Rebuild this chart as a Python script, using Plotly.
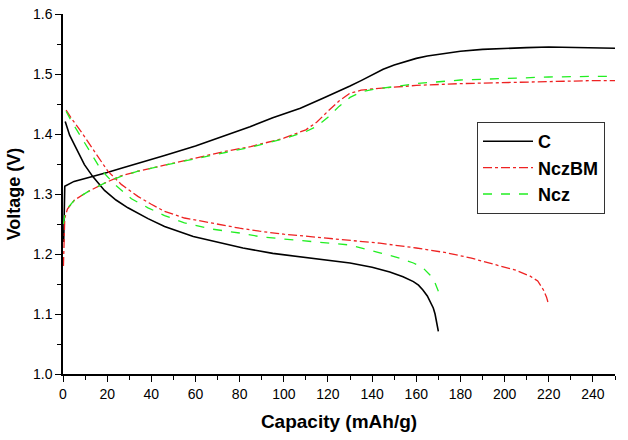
import plotly.graph_objects as go

# ---------------- data ----------------
c_charge_x = [0.3, 0.5, 0.8, 5, 11.3, 20, 26.4, 35, 46, 60, 70, 84.7, 95, 107.5, 118, 125, 130, 135, 140, 145, 150, 155, 160, 165, 170, 180, 190, 200, 210, 220, 230, 240, 250]
c_charge_v = [1.22, 1.30, 1.313, 1.321, 1.327, 1.336, 1.343, 1.352, 1.364, 1.380, 1.393, 1.412, 1.427, 1.443, 1.460, 1.471, 1.480, 1.489, 1.499, 1.508, 1.515, 1.521, 1.526, 1.530, 1.533, 1.538, 1.541, 1.543, 1.544, 1.545, 1.544, 1.543, 1.543]
c_dis_x = [1.0, 3, 5.2, 9.7, 13.5, 18.8, 24, 29.4, 38.5, 46, 59, 70, 81.5, 95, 112, 130, 140, 148, 154, 158.7, 161, 163, 165, 166.5, 167.7, 168.5, 169.3, 170]
c_dis_v = [1.421, 1.398, 1.382, 1.349, 1.329, 1.306, 1.290, 1.277, 1.259, 1.246, 1.229, 1.220, 1.210, 1.201, 1.193, 1.185, 1.178, 1.170, 1.162, 1.154, 1.148, 1.140, 1.130, 1.120, 1.110, 1.100, 1.085, 1.071]

bm_charge_x = [0.2, 0.5, 0.8, 2, 5.2, 11.3, 18.8, 26, 34, 46, 60, 72, 85, 100, 110, 115, 120, 125, 130, 135, 140, 150, 160, 180, 200, 220, 240, 250]
bm_charge_v = [1.18, 1.23, 1.26, 1.275, 1.29, 1.304, 1.318, 1.330, 1.338, 1.348, 1.360, 1.370, 1.379, 1.393, 1.407, 1.420, 1.438, 1.455, 1.468, 1.473, 1.475, 1.478, 1.481, 1.484, 1.486, 1.488, 1.489, 1.489]
bm_dis_x = [1.4, 4, 8.2, 14.3, 20.3, 26.4, 33.9, 40, 46, 55, 66.5, 80, 89, 100, 112, 125, 143.5, 160, 173.8, 185, 196.5, 205, 211.6, 215, 217.6, 219, 219.9]
bm_dis_v = [1.440, 1.425, 1.404, 1.371, 1.338, 1.316, 1.296, 1.283, 1.271, 1.260, 1.252, 1.243, 1.238, 1.233, 1.229, 1.224, 1.218, 1.210, 1.202, 1.193, 1.182, 1.173, 1.163, 1.155, 1.140, 1.128, 1.116]

ncz_charge_x = [0.2, 0.8, 2, 5.2, 11.3, 18.8, 26, 34, 46, 60, 72, 85, 100, 110, 115, 120, 125, 130, 135, 140, 150, 160, 180, 200, 220, 240, 250]
ncz_charge_v = [1.25, 1.265, 1.276, 1.29, 1.304, 1.318, 1.329, 1.338, 1.348, 1.359, 1.369, 1.378, 1.392, 1.404, 1.413, 1.428, 1.446, 1.461, 1.470, 1.474, 1.479, 1.484, 1.490, 1.493, 1.495, 1.496, 1.496]
ncz_dis_x = [1.4, 4, 6.7, 11.3, 17.3, 23.4, 31, 38.5, 46, 55, 66.5, 80, 89, 100, 112, 130, 143.5, 152.6, 158.7, 163, 166.2, 168.5, 170]
ncz_dis_v = [1.438, 1.420, 1.404, 1.377, 1.340, 1.316, 1.292, 1.277, 1.264, 1.252, 1.242, 1.235, 1.229, 1.225, 1.221, 1.215, 1.202, 1.193, 1.185, 1.177, 1.165, 1.152, 1.138]

names = ["C", "NczBM", "Ncz"]
x_ticks = list(range(0, 241, 20))
y_ticks = [1.0, 1.1, 1.2, 1.3, 1.4, 1.5, 1.6]
y_tick_text = ["1.0", "1.1", "1.2", "1.3", "1.4", "1.5", "1.6"]

FONT = "Arial, 'Liberation Sans', sans-serif"

def joined(ax, av, bx, bv):
    return ax + [None] + bx, av + [None] + bv

fig = go.Figure()
series = [
    (names[0], c_charge_x, c_charge_v, c_dis_x, c_dis_v, "#000000", "solid", 1.6),
    (names[1], bm_charge_x, bm_charge_v, bm_dis_x, bm_dis_v, "#ee2222", "dashdot", 1.3),
    (names[2], ncz_charge_x, ncz_charge_v, ncz_dis_x, ncz_dis_v, "#22ee22", "dash", 1.3),
]
for name, cx, cv, dx, dv, col, dash, w in series:
    xs, vs = joined(cx, cv, dx, dv)
    fig.add_trace(go.Scatter(x=xs, y=vs, mode="lines", name=name,
                             line=dict(color=col, dash=dash, width=w),
                             connectgaps=False))

# plot area: left 63, right 615, top 14, bottom 374 (pixels)
PL, PW, PT, PH = 63, 552, 14, 360
fig.update_layout(
    width=628, height=440,
    margin=dict(l=PL, r=628 - PL - PW, t=PT, b=440 - PT - PH, autoexpand=False),
    paper_bgcolor="white", plot_bgcolor="white",
    font=dict(family=FONT, color="#000000"),
    showlegend=True,
    legend=dict(x=(477 - PL) / PW, y=1 - (122 - PT) / PH, xref="paper", yref="paper",
                xanchor="left", yanchor="top",
                bordercolor="#333333", borderwidth=1, bgcolor="white",
                font=dict(family=FONT, size=18, weight="bold"),
                itemwidth=50, tracegroupgap=0),
)
fig.update_xaxes(
    range=[0, 250], tickvals=x_ticks, showgrid=False, zeroline=False, automargin=False,
    showline=True, linecolor="black", linewidth=1.5, mirror=False,
    ticks="outside", ticklen=6, tickwidth=1.2, tickcolor="black",
    tickfont=dict(size=14, family=FONT),
    minor=dict(ticks="outside", ticklen=4, dtick=10, tick0=0, tickcolor="black", tickwidth=1.2, showgrid=False),
    title=dict(text="Capacity (mAh/g)", font=dict(size=19, family=FONT, weight="bold"), standoff=14),
)
fig.update_yaxes(
    range=[1.0, 1.6], tickvals=y_ticks, ticktext=y_tick_text, showgrid=False, zeroline=False, automargin=False,
    showline=True, linecolor="black", linewidth=1.5, mirror=False,
    ticks="outside", ticklen=6, tickwidth=1.2, tickcolor="black",
    tickfont=dict(size=14, family=FONT),
    minor=dict(ticks="outside", ticklen=4, dtick=0.05, tick0=1.0, tickcolor="black", tickwidth=1.2, showgrid=False),
    title=dict(text="Voltage (V)", font=dict(size=18, family=FONT, weight="bold"), standoff=8),
)

fig.write_html("out.html")
